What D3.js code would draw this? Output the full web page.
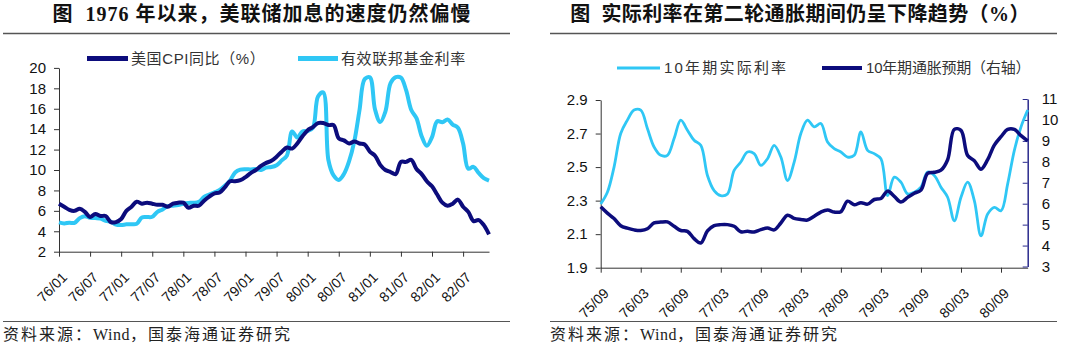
<!DOCTYPE html>
<html><head><meta charset="utf-8">
<script src="https://cdn.jsdelivr.net/npm/d3@7"></script>
<style>
html,body{margin:0;padding:0;background:#fff;}
svg{display:block;}
text{white-space:pre;}
</style></head>
<body>
<svg id="c" width="1080" height="357"></svg>
<script>
// ---------- DATA ----------
const leftTitle = "图  1976 年以来，美联储加息的速度仍然偏慢";
const rightTitle = "图  实际利率在第二轮通胀期间仍呈下降趋势（%）";
const sourceParts = ["资料来源：","Wind","，国泰海通证券研究"];

const leftXLabels = ["76/01","76/07","77/01","77/07","78/01","78/07","79/01","79/07","80/01","80/07","81/01","81/07","82/01","82/07"];
const leftYTicks = [2,4,6,8,10,12,14,16,18,20];
const leftSeriesNames = ["美国CPI同比（%）","有效联邦基金利率"];
// monthly, 1976/01 - 1982/12
const cpiYoY = [6.7,6.4,6.1,6.0,6.2,5.9,5.4,5.7,5.5,5.5,4.9,4.9,
5.2,6.0,6.4,6.9,6.7,6.8,6.7,6.6,6.6,6.4,6.7,6.8,
6.8,6.3,6.5,6.5,7.0,7.4,7.7,7.8,8.3,8.9,8.9,9.0,
9.3,9.7,10.0,10.4,10.7,10.9,11.3,11.8,12.2,12.1,12.6,13.3,
13.9,14.2,14.6,14.6,14.4,14.4,13.1,12.9,12.6,12.8,12.6,12.5,
11.8,11.4,10.5,10.0,9.8,9.6,10.8,10.8,11.0,10.1,9.6,8.9,
8.4,7.6,6.8,6.5,6.7,7.1,6.4,5.9,5.0,5.1,4.6,3.7];
const fedFunds = [4.87,4.77,4.84,4.82,5.29,5.48,5.31,5.29,5.25,5.02,4.95,4.65,
4.61,4.68,4.69,4.73,5.35,5.39,5.42,5.90,6.14,6.47,6.51,6.56,
6.70,6.78,6.79,6.89,7.36,7.60,7.81,8.04,8.45,8.96,9.76,10.03,
10.07,10.06,10.09,10.01,10.24,10.29,10.47,10.94,11.43,13.77,13.18,13.78,
13.82,14.13,17.19,17.61,10.98,9.47,9.03,9.61,10.87,12.81,15.85,18.90,
19.08,15.93,14.70,15.72,18.52,19.10,19.04,17.82,15.87,15.08,13.31,12.37,
13.22,14.78,14.68,14.94,14.45,14.15,12.59,10.12,10.31,9.71,9.20,8.95];

const rightXLabels = ["75/09","76/03","76/09","77/03","77/09","78/03","78/09","79/03","79/09","80/03","80/09"];
const rightYTicksL = [1.9,2.1,2.3,2.5,2.7,2.9];
const rightYTicksR = [3,4,5,6,7,8,9,10,11];
const rightSeriesNames = ["10年期实际利率","10年期通胀预期（右轴）"];
// monthly, 1975/09 - 1981/01
const realRate = [2.28,2.35,2.50,2.70,2.78,2.84,2.84,2.73,2.62,2.57,2.57,2.67,
2.78,2.72,2.66,2.63,2.45,2.36,2.33,2.34,2.48,2.53,2.59,2.58,
2.51,2.55,2.63,2.56,2.42,2.53,2.70,2.78,2.74,2.76,2.65,2.61,
2.59,2.56,2.57,2.71,2.60,2.58,2.55,2.33,2.44,2.41,2.34,2.35,
2.38,2.47,2.45,2.38,2.32,2.18,2.32,2.41,2.30,2.09,2.22,2.26,
2.24,2.40,2.60,2.74,2.84];
const inflExp = [5.85,5.55,5.29,4.95,4.83,4.75,4.72,4.80,5.08,5.12,5.13,4.92,
4.72,4.68,4.33,4.12,4.70,4.95,5.00,5.00,4.92,4.66,4.68,4.65,
4.76,4.84,4.75,5.08,5.45,5.30,5.25,5.22,5.40,5.60,5.70,5.60,
5.62,6.12,5.95,6.05,5.98,6.20,6.25,6.60,6.35,6.08,6.30,6.50,
6.65,7.45,7.50,7.60,8.10,9.55,9.50,8.30,8.05,7.65,8.10,8.80,
9.20,9.55,9.55,9.25,9.00];

// ---------- STYLE ----------
const NAVY = "#0c0c7c", CYAN = "#2fc7f5";
const cjkSerif = "'Liberation Serif','Noto Sans CJK SC',serif";
const sans = "'Liberation Sans','Noto Sans CJK SC',Arial,sans-serif";

const svg = d3.select("#c");

function header(x1, x2, cx, title, ls){
  svg.append("text").attr("x",cx).attr("y",21).attr("text-anchor","middle")
    .attr("font-family",cjkSerif).attr("font-weight","bold").attr("font-size",20)
    .attr("letter-spacing",ls).attr("fill","#111").text(title);
  svg.append("line").attr("x1",x1).attr("x2",x2).attr("y1",33.5).attr("y2",33.5)
    .attr("stroke","#555").attr("stroke-width",1.5);
  svg.append("line").attr("x1",x1).attr("x2",x2).attr("y1",321.5).attr("y2",321.5)
    .attr("stroke","#555").attr("stroke-width",1.2);
  const ft = svg.append("text").attr("x",x1).attr("y",340).attr("font-family",cjkSerif)
    .attr("font-size",16).attr("fill","#222");
  sourceParts.forEach((p,i)=>{
    ft.append("tspan").attr("letter-spacing", i===1 ? 0.5 : 2).text(p);
  });
}
header(3,510,262,leftTitle,1);
header(550,1057,800,rightTitle,0.4);

function styleAxis(g, color){
  g.selectAll("path").attr("stroke",color);
  g.selectAll("line").attr("stroke",color);
  g.selectAll("text").attr("font-family",sans).attr("font-size",15).attr("fill","#111");
}
function rotateLabels(g){
  g.selectAll("text").attr("x",0).attr("y",0).attr("dy","0.35em")
   .attr("text-anchor","end").attr("font-size",14)
   .attr("transform","translate(5,23) rotate(-45)");
}
const smooth = d3.curveCatmullRom.alpha(0.5);

// ---------- LEFT CHART ----------
const xL = d3.scaleLinear().domain([0,83]).range([59,489]);
const yL = d3.scaleLinear().domain([2,20]).range([251.7,67.9]);

const gx = svg.append("g").attr("transform",`translate(0,${yL(2)})`)
  .call(d3.axisBottom(xL).tickValues(d3.range(0,84,6)).tickFormat((d,i)=>leftXLabels[i]).tickSize(5).tickSizeOuter(0));
styleAxis(gx,"#333"); rotateLabels(gx);
const gy = svg.append("g").attr("transform",`translate(${xL(0)},0)`)
  .call(d3.axisLeft(yL).tickValues(leftYTicks).tickSize(5).tickPadding(8).tickSizeOuter(0));
styleAxis(gy,"#333");

const lineL = d3.line().x((d,i)=>xL(i)).y(d=>yL(d)).curve(smooth);
svg.append("path").datum(fedFunds).attr("d",lineL).attr("fill","none")
  .attr("stroke",CYAN).attr("stroke-width",4).attr("stroke-linejoin","round");
svg.append("path").datum(cpiYoY).attr("d",lineL).attr("fill","none")
  .attr("stroke",NAVY).attr("stroke-width",4).attr("stroke-linejoin","round");

// left legend
[[NAVY,87,128,131,leftSeriesNames[0]],[CYAN,298,338,341,leftSeriesNames[1]]].forEach(([c,a,b,tx,t])=>{
  svg.append("line").attr("x1",a).attr("x2",b).attr("y1",58.5).attr("y2",58.5)
    .attr("stroke",c).attr("stroke-width",5);
  svg.append("text").attr("x",tx).attr("y",58.5).attr("dy","0.35em")
    .attr("font-family",sans).attr("font-size",15).attr("letter-spacing",0.6)
    .attr("fill","#333").text(t);
});

// ---------- RIGHT CHART ----------
const xR = d3.scaleLinear().domain([0,64]).range([600.7,1027.7]);
const yR1 = d3.scaleLinear().domain([1.9,2.9]).range([267.7,100]);
const yR2 = d3.scaleLinear().domain([3,11]).range([266.5,99]);

const gx2 = svg.append("g").attr("transform",`translate(0,${yR1(1.9)})`)
  .call(d3.axisBottom(xR).tickValues(d3.range(0,65,6)).tickFormat((d,i)=>rightXLabels[i]).tickSize(5).tickSizeOuter(0));
styleAxis(gx2,"#333"); rotateLabels(gx2);
const gy2 = svg.append("g").attr("transform",`translate(${xR(0)},0)`)
  .call(d3.axisLeft(yR1).tickValues(rightYTicksL).tickFormat(d3.format(".1f")).tickSize(5).tickPadding(8).tickSizeOuter(0));
styleAxis(gy2,"#333");
const gy3 = svg.append("g").attr("transform",`translate(${xR(64)},0)`)
  .call(d3.axisRight(yR2).tickValues(rightYTicksR).tickSize(-5).tickPadding(14).tickSizeOuter(0));
styleAxis(gy3,"#2a2a8c");
gy3.select("path").attr("stroke-width",1.5);

const lineR1 = d3.line().x((d,i)=>xR(i)).y(d=>yR1(d)).curve(smooth);
const lineR2 = d3.line().x((d,i)=>xR(i)).y(d=>yR2(d)).curve(smooth);
svg.append("path").datum(realRate).attr("d",lineR1).attr("fill","none")
  .attr("stroke",CYAN).attr("stroke-width",2.8).attr("stroke-linejoin","round");
svg.append("path").datum(inflExp).attr("d",lineR2).attr("fill","none")
  .attr("stroke",NAVY).attr("stroke-width",3.5).attr("stroke-linejoin","round");

// right legend
[[CYAN,617,660,664,rightSeriesNames[0],3,2.2],[NAVY,822,862,866,rightSeriesNames[1],4,-0.2]].forEach(([c,a,b,tx,t,w,ls])=>{
  svg.append("line").attr("x1",a).attr("x2",b).attr("y1",68).attr("y2",68)
    .attr("stroke",c).attr("stroke-width",w);
  svg.append("text").attr("x",tx).attr("y",68).attr("dy","0.35em")
    .attr("font-family",sans).attr("font-size",15).attr("letter-spacing",ls)
    .attr("fill","#333").text(t);
});
</script>
</body></html>
